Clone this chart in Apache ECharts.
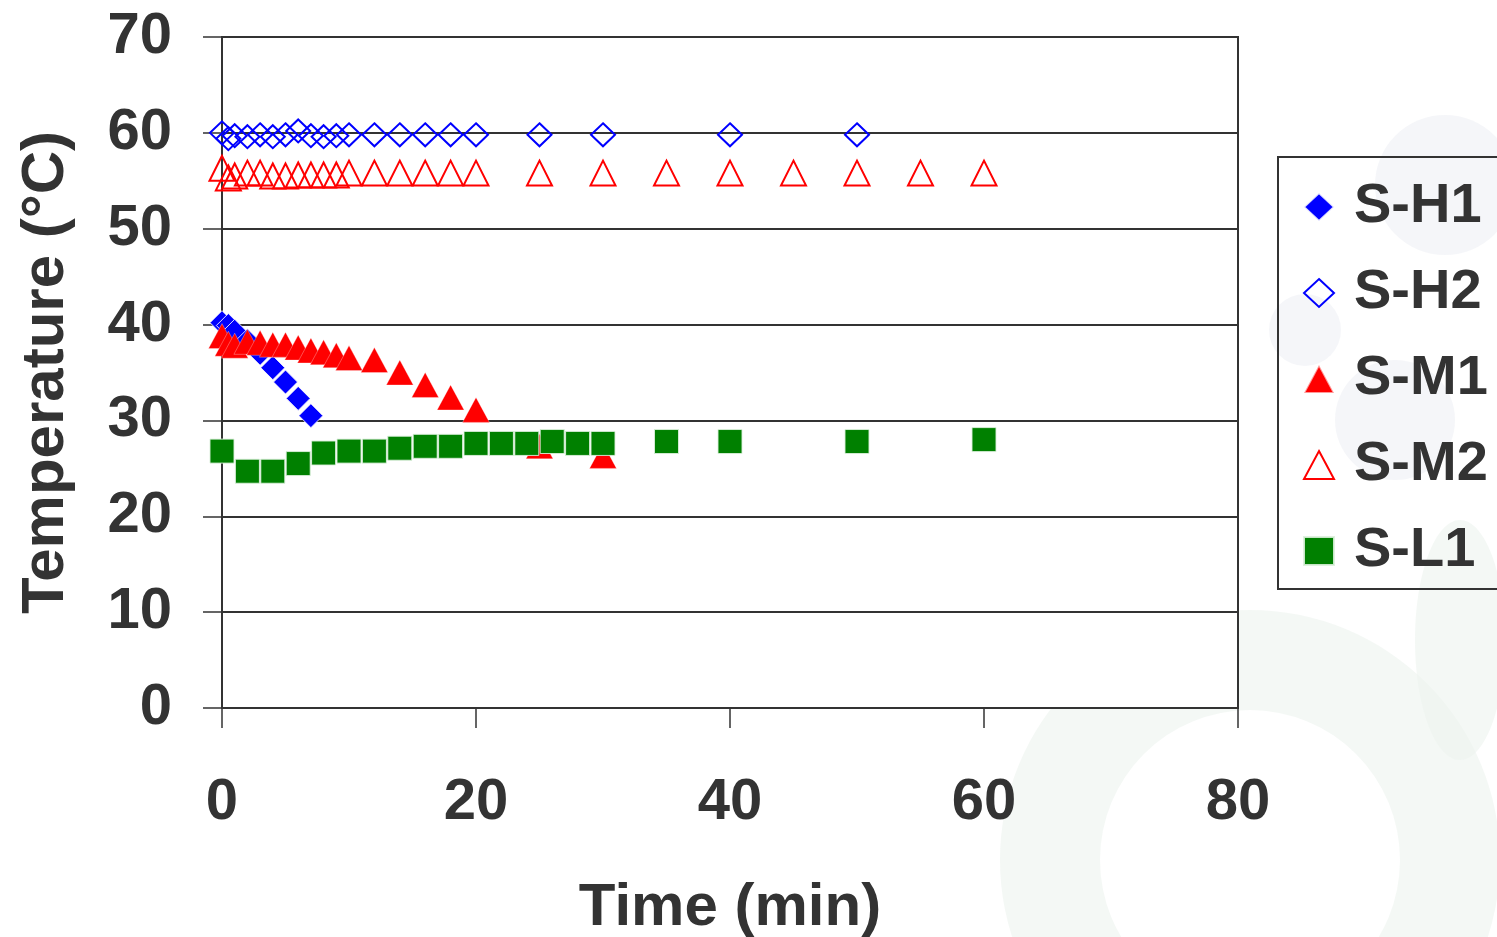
<!DOCTYPE html>
<html>
<head>
<meta charset="utf-8">
<title>Temperature vs Time</title>
<script src="https://cdn.jsdelivr.net/npm/echarts@6/dist/echarts.min.js"></script>
<style>
  html, body { margin: 0; padding: 0; background: #ffffff; }
  #chart { width: 1497px; height: 937px; }
</style>
</head>
<body>
<div id="chart"></div>
<script>
// Temperature readings (°C) against elapsed time (min) for each sample
const seriesNames = ['S-H1', 'S-H2', 'S-M1', 'S-M2', 'S-L1'];

const timeH1 = [0, 0.5, 1, 2, 3, 4, 5, 6, 7];
const tempH1 = [40.2, 39.9, 39.3, 38.3, 37.0, 35.5, 34.0, 32.3, 30.5];

const timeH2 = [0, 0.5, 1, 2, 3, 4, 5, 6, 7, 8, 9, 10, 12, 14, 16, 18, 20, 25, 30, 40, 50];
const tempH2 = [60.0, 59.4, 59.7, 59.6, 59.8, 59.6, 59.8, 60.2, 59.7, 59.6, 59.7, 59.8, 59.8, 59.8, 59.8, 59.8, 59.8, 59.8, 59.8, 59.8, 59.8];

const timeM1 = [0, 0.5, 1, 2, 3, 4, 5, 6, 7, 8, 9, 10, 12, 14, 16, 18, 20, 25, 30];
const tempM1 = [38.8, 38.0, 37.8, 38.2, 38.1, 37.9, 37.9, 37.6, 37.3, 37.1, 36.8, 36.5, 36.3, 35.0, 33.7, 32.4, 31.1, 27.3, 26.3];

const timeM2 = [0, 0.5, 1, 2, 3, 4, 5, 6, 7, 8, 9, 10, 12, 14, 16, 18, 20, 25, 30, 35, 40, 45, 50, 55, 60];
const tempM2 = [56.3, 55.3, 55.5, 55.8, 55.8, 55.5, 55.5, 55.6, 55.6, 55.6, 55.6, 55.8, 55.8, 55.8, 55.8, 55.8, 55.8, 55.8, 55.8, 55.8, 55.8, 55.8, 55.8, 55.8, 55.8];

const timeL1 = [0, 2, 4, 6, 8, 10, 12, 14, 16, 18, 20, 22, 24, 26, 28, 30, 35, 40, 50, 60];
const tempL1 = [26.8, 24.7, 24.7, 25.5, 26.6, 26.8, 26.8, 27.1, 27.3, 27.3, 27.6, 27.6, 27.6, 27.8, 27.6, 27.6, 27.8, 27.8, 27.8, 28.0];

const xTicks = [0, 20, 40, 60, 80];
const yTicks = [0, 10, 20, 30, 40, 50, 60, 70];

const FONT = '"Liberation Sans", Arial, Helvetica, sans-serif';
const INK = '#333333';

function pairs(xs, ys) {
  return xs.map((x, i) => [x, ys[i]]);
}

const chart = echarts.init(document.getElementById('chart'), null, { renderer: 'canvas' });

// faint background emblem behind the chart
const GREY = 'rgba(236,238,244,0.55)';
const MINT = 'rgba(236,243,238,0.6)';
const haze = [
  { type: 'circle', shape: { cx: 1445, cy: 185, r: 70 }, style: { fill: GREY } },
  { type: 'circle', shape: { cx: 1305, cy: 330, r: 36 }, style: { fill: GREY } },
  { type: 'circle', shape: { cx: 1395, cy: 420, r: 60 }, style: { fill: GREY } },
  { type: 'circle', shape: { cx: 1005, cy: 620, r: 66 }, style: { fill: MINT } },
  { type: 'circle', shape: { cx: 1165, cy: 530, r: 55 }, style: { fill: MINT } },
  { type: 'ring', shape: { cx: 1250, cy: 860, r: 250, r0: 150 }, style: { fill: MINT } },
  { type: 'ellipse', shape: { cx: 1460, cy: 640, rx: 45, ry: 120 }, style: { fill: MINT } }
].map(g => Object.assign({ z: -100, silent: true }, g));

const option = {
  backgroundColor: '#ffffff',
  animation: false,
  textStyle: { fontFamily: FONT },
  graphic: haze,
  grid: {
    left: 222, right: 259, top: 37, bottom: 229,
    show: true,
    backgroundColor: '#ffffff',
    borderColor: INK,
    borderWidth: 2,
    containLabel: false,
    outerBoundsMode: 'none'
  },
  legend: {
    orient: 'vertical',
    left: 1278,
    top: 157,
    padding: [20, 60, 8, 25],
    itemGap: 26,
    itemWidth: 30,
    itemHeight: 28,
    borderColor: INK,
    borderWidth: 2,
    backgroundColor: 'transparent',
    data: seriesNames,
    textStyle: {
      fontFamily: FONT,
      fontSize: 56,
      fontWeight: 'bold',
      color: INK,
      lineHeight: 60,
      padding: [0, 0, 0, 15]
    }
  },
  xAxis: {
    type: 'value',
    min: 0, max: 80, interval: 20,
    name: 'Time (min)',
    nameLocation: 'middle',
    nameGap: 170,
    nameTextStyle: { fontFamily: FONT, fontSize: 60, fontWeight: 'bold', color: INK },
    axisLine: { show: true, onZero: false, lineStyle: { color: INK, width: 2 } },
    axisTick: { show: true, inside: false, length: 20, lineStyle: { color: INK, width: 1.5 } },
    axisLabel: {
      margin: 66,
      fontFamily: FONT, fontSize: 58, fontWeight: 'bold', color: INK,
      formatter: v => (xTicks.includes(v) ? String(v) : '')
    },
    splitLine: { show: false }
  },
  yAxis: {
    type: 'value',
    min: 0, max: 70, interval: 10,
    name: 'Temperature (°C)',
    nameLocation: 'middle',
    nameRotate: 90,
    nameGap: 146,
    nameTextStyle: { fontFamily: FONT, fontSize: 60, fontWeight: 'bold', color: INK },
    axisLine: { show: true, onZero: false, lineStyle: { color: INK, width: 2 } },
    axisTick: { show: true, inside: false, length: 19, lineStyle: { color: INK, width: 1.5 } },
    axisLabel: {
      margin: 50,
      padding: [6, 0, 0, 0],
      fontFamily: FONT, fontSize: 58, fontWeight: 'bold', color: INK,
      formatter: v => (yTicks.includes(v) ? String(v) : '')
    },
    splitLine: { show: true, lineStyle: { color: INK, width: 2 } }
  },
  series: [
    {
      name: 'S-H1', type: 'scatter', symbol: 'diamond', symbolSize: [24, 24],
      itemStyle: { color: '#0000ff', borderColor: 'rgba(255,255,255,0.85)', borderWidth: 1, opacity: 1 },
      data: pairs(timeH1, tempH1)
    },
    {
      name: 'S-H2', type: 'scatter', symbol: 'diamond', symbolSize: [24, 23],
      itemStyle: { color: 'rgba(255,255,255,0)', borderColor: '#0000ff', borderWidth: 2, opacity: 1 },
      data: pairs(timeH2, tempH2)
    },
    {
      name: 'S-M1', type: 'scatter', symbol: 'triangle', symbolSize: [27, 25],
      itemStyle: { color: '#ff0000', borderColor: 'rgba(255,255,255,0.6)', borderWidth: 0.5, opacity: 1 },
      data: pairs(timeM1, tempM1)
    },
    {
      name: 'S-M2', type: 'scatter', symbol: 'triangle', symbolSize: [25, 25],
      itemStyle: { color: 'rgba(255,255,255,0)', borderColor: '#ff0000', borderWidth: 2, opacity: 1 },
      data: pairs(timeM2, tempM2)
    },
    {
      name: 'S-L1', type: 'scatter', symbol: 'rect', symbolSize: [24, 24],
      itemStyle: { color: '#008000', borderColor: 'rgba(220,240,220,0.9)', borderWidth: 1, opacity: 1 },
      data: pairs(timeL1, tempL1)
    }
  ]
};

chart.setOption(option);
</script>
</body>
</html>
